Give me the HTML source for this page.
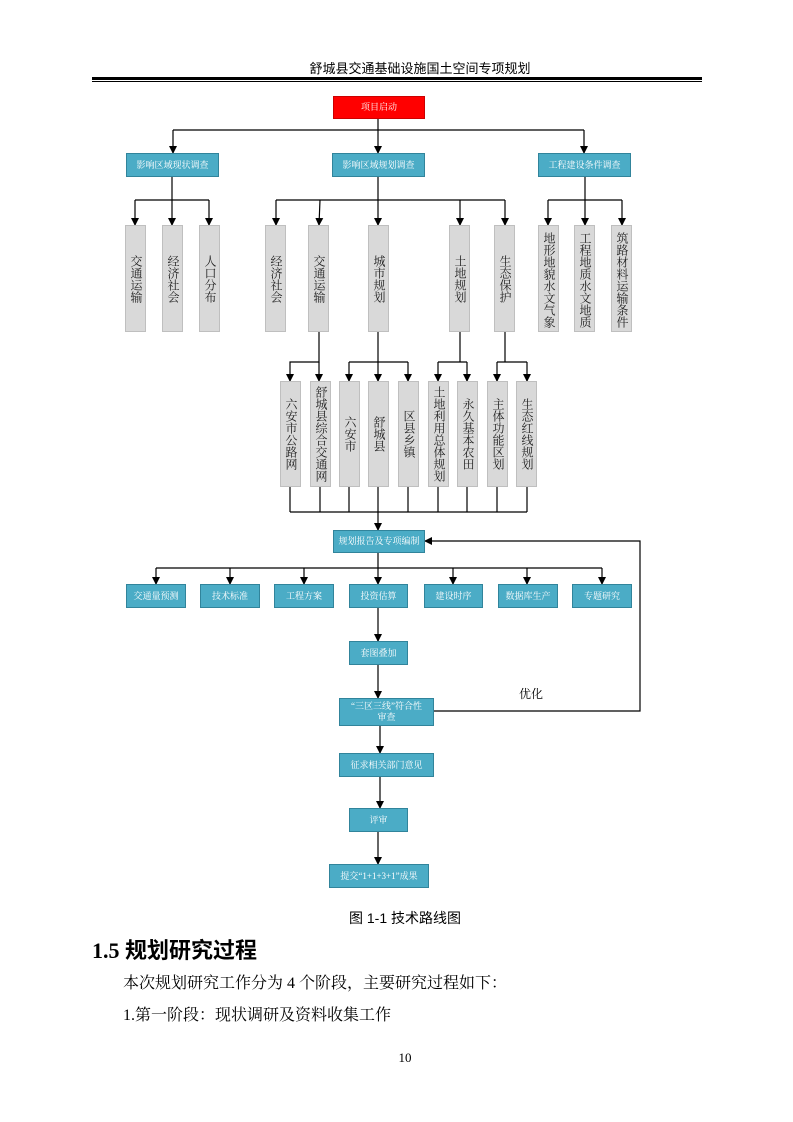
<!DOCTYPE html>
<html><head><meta charset="utf-8"><style>
body{margin:0;background:#fff;}
#p{position:relative;width:793px;height:1122px;overflow:hidden;font-family:"Liberation Serif","Noto Serif CJK SC",serif;}
.t{position:absolute;display:flex;align-items:center;justify-content:center;color:#fff;font-size:9px;text-align:center;line-height:11px;background:#4bacc6;border:1px solid #31849b;box-sizing:border-box;}
.g{position:absolute;background:#d9d9d9;border:1px solid #bfbfbf;box-sizing:border-box;display:flex;justify-content:center;align-items:center;}
.g span{writing-mode:vertical-rl;font-size:12px;line-height:13px;color:#222;letter-spacing:0;}
.x{position:absolute;white-space:nowrap;color:#000;}
</style></head><body><div id="p">
<div class="x" style="left:0;width:840px;top:58px;text-align:center;font-size:13px;font-family:'Liberation Sans','Noto Sans CJK SC',sans-serif;">舒城县交通基础设施国土空间专项规划</div>
<div style="position:absolute;left:92px;top:77px;width:610px;height:3px;background:#000"></div>
<div style="position:absolute;left:92px;top:81px;width:610px;height:1px;background:#000"></div>
<svg width="793" height="1122" style="position:absolute;left:0;top:0">
<defs><marker id="a" markerWidth="8" markerHeight="8" refX="7" refY="4" orient="auto" markerUnits="userSpaceOnUse"><path d="M0,0 L8,4 L0,8z" fill="#000"/></marker></defs>
<g stroke="#000" stroke-width="1.2" fill="none">
<path d="M378,119V153" marker-end="url(#a)"/>
<path d="M173,130H584"/><path d="M173,130V153" marker-end="url(#a)"/><path d="M584,130V153" marker-end="url(#a)"/>
<path d="M172,177V225" marker-end="url(#a)"/><path d="M135,200H209"/><path d="M135,200V225" marker-end="url(#a)"/><path d="M209,200V225" marker-end="url(#a)"/>
<path d="M378,177V225" marker-end="url(#a)"/><path d="M276,200H505"/><path d="M276,200V225" marker-end="url(#a)"/><path d="M320,200L319,225" marker-end="url(#a)"/><path d="M460,200V225" marker-end="url(#a)"/><path d="M505,200V225" marker-end="url(#a)"/>
<path d="M585,177V225" marker-end="url(#a)"/><path d="M548,200H622"/><path d="M548,200V225" marker-end="url(#a)"/><path d="M622,200V225" marker-end="url(#a)"/>
<path d="M319,332V362H290V381" marker-end="url(#a)"/><path d="M319,362V381" marker-end="url(#a)"/>
<path d="M378,332V381" marker-end="url(#a)"/><path d="M349,362H408"/><path d="M349,362V381" marker-end="url(#a)"/><path d="M408,362V381" marker-end="url(#a)"/>
<path d="M460,332V362"/><path d="M438,362H467"/><path d="M438,362V381" marker-end="url(#a)"/><path d="M467,362V381" marker-end="url(#a)"/>
<path d="M505,332V362"/><path d="M497,362H527"/><path d="M497,362V381" marker-end="url(#a)"/><path d="M527,362V381" marker-end="url(#a)"/>
<path d="M290,487V512M320,487V512M349,487V512M408,487V512M438,487V512M467,487V512M497,487V512M527,487V512M290,512H527"/>
<path d="M378,487V530" marker-end="url(#a)"/>
<path d="M378,553V584" marker-end="url(#a)"/><path d="M156,568H602"/>
<path d="M156,568V584" marker-end="url(#a)"/><path d="M230,568V584" marker-end="url(#a)"/><path d="M304,568V584" marker-end="url(#a)"/><path d="M453,568V584" marker-end="url(#a)"/><path d="M527,568V584" marker-end="url(#a)"/><path d="M602,568V584" marker-end="url(#a)"/>
<path d="M378,608V641" marker-end="url(#a)"/><path d="M378,665V698" marker-end="url(#a)"/>
<path d="M380,726V753" marker-end="url(#a)"/><path d="M380,777V808" marker-end="url(#a)"/><path d="M378,832V864" marker-end="url(#a)"/>
<path d="M434,711H640V541H425" marker-end="url(#a)"/>
</g></svg>
<div class="t" style="left:333px;top:96px;width:92px;height:23px;background:#f00;border-color:#c00">项目启动</div>
<div class="t" style="left:126px;top:153px;width:93px;height:24px">影响区域现状调查</div>
<div class="t" style="left:332px;top:153px;width:93px;height:24px">影响区域规划调查</div>
<div class="t" style="left:538px;top:153px;width:93px;height:24px">工程建设条件调查</div>
<div class="g" style="left:125px;top:225px;width:21px;height:107px"><span>交通运输</span></div>
<div class="g" style="left:162px;top:225px;width:21px;height:107px"><span>经济社会</span></div>
<div class="g" style="left:199px;top:225px;width:21px;height:107px"><span>人口分布</span></div>
<div class="g" style="left:265px;top:225px;width:21px;height:107px"><span>经济社会</span></div>
<div class="g" style="left:308px;top:225px;width:21px;height:107px"><span>交通运输</span></div>
<div class="g" style="left:368px;top:225px;width:21px;height:107px"><span>城市规划</span></div>
<div class="g" style="left:449px;top:225px;width:21px;height:107px"><span>土地规划</span></div>
<div class="g" style="left:494px;top:225px;width:21px;height:107px"><span>生态保护</span></div>
<div class="g" style="left:538px;top:225px;width:21px;height:107px;align-items:flex-start;padding-top:6px"><span>地形地貌水文气象</span></div>
<div class="g" style="left:574px;top:225px;width:21px;height:107px;align-items:flex-start;padding-top:6px"><span>工程地质水文地质</span></div>
<div class="g" style="left:611px;top:225px;width:21px;height:107px;align-items:flex-start;padding-top:6px"><span>筑路材料运输条件</span></div>
<div class="g" style="left:280px;top:381px;width:21px;height:106px"><span>六安市公路网</span></div>
<div class="g" style="left:310px;top:381px;width:21px;height:106px"><span>舒城县综合交通网</span></div>
<div class="g" style="left:339px;top:381px;width:21px;height:106px"><span>六安市</span></div>
<div class="g" style="left:368px;top:381px;width:21px;height:106px"><span>舒城县</span></div>
<div class="g" style="left:398px;top:381px;width:21px;height:106px"><span>区县乡镇</span></div>
<div class="g" style="left:428px;top:381px;width:21px;height:106px"><span>土地利用总体规划</span></div>
<div class="g" style="left:457px;top:381px;width:21px;height:106px"><span>永久基本农田</span></div>
<div class="g" style="left:487px;top:381px;width:21px;height:106px"><span>主体功能区划</span></div>
<div class="g" style="left:516px;top:381px;width:21px;height:106px"><span>生态红线规划</span></div>
<div class="t" style="left:333px;top:530px;width:92px;height:23px">规划报告及专项编制</div>
<div class="t" style="left:126px;top:584px;width:60px;height:24px">交通量预测</div>
<div class="t" style="left:200px;top:584px;width:60px;height:24px">技术标准</div>
<div class="t" style="left:274px;top:584px;width:60px;height:24px">工程方案</div>
<div class="t" style="left:349px;top:584px;width:59px;height:24px">投资估算</div>
<div class="t" style="left:424px;top:584px;width:59px;height:24px">建设时序</div>
<div class="t" style="left:498px;top:584px;width:60px;height:24px">数据库生产</div>
<div class="t" style="left:572px;top:584px;width:60px;height:24px">专题研究</div>
<div class="t" style="left:349px;top:641px;width:59px;height:24px">套图叠加</div>
<div class="t" style="left:339px;top:698px;width:95px;height:28px">“三区三线”符合性<br>审查</div>
<div class="t" style="left:339px;top:753px;width:95px;height:24px">征求相关部门意见</div>
<div class="t" style="left:349px;top:808px;width:59px;height:24px">评审</div>
<div class="t" style="left:329px;top:864px;width:100px;height:24px">提交“1+1+3+1”成果</div>
<div class="x" style="left:519px;top:685px;font-size:12px">优化</div>
<div class="x" style="left:0;width:810px;top:908px;text-align:center;font-size:14px;font-family:'Liberation Sans','Noto Sans CJK SC',sans-serif">图 1-1 技术路线图</div>
<div class="x" style="left:92px;top:933px;font-size:22px;font-weight:bold;font-family:'Liberation Serif','Noto Sans CJK SC',serif">1.5 规划研究过程</div>
<div class="x" style="left:123px;top:970px;font-size:16px">本次规划研究工作分为 4 个阶段，主要研究过程如下：</div>
<div class="x" style="left:123px;top:1002px;font-size:16px">1.第一阶段：现状调研及资料收集工作</div>
<div class="x" style="left:0;width:810px;top:1050px;text-align:center;font-size:13px">10</div>
</div></body></html>
